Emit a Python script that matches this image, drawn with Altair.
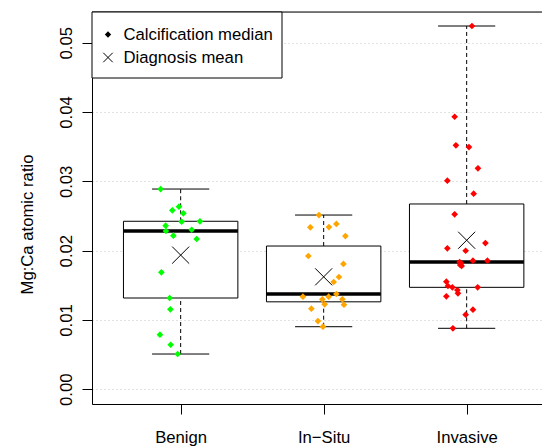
import altair as alt
import pandas as pd
import numpy as np

categories = ["Benign", "In\u2212Situ", "Invasive"]
colors = ["#00FF00", "#FFA500", "#FF0000"]
legend_labels = ["Calcification median", "Diagnosis mean"]
y_ticks = [0.0, 0.01, 0.02, 0.03, 0.04, 0.05]

benign_values = [0.02889, 0.02582, 0.02634, 0.02539, 0.02418, 0.02424, 0.02360, 0.02284, 0.02302,
                 0.02216, 0.02168, 0.01688, 0.01317, 0.01154, 0.00788, 0.00643, 0.00509]
benign_jitter = [-0.140, -0.058, -0.012, 0.019, 0.007, 0.135, -0.105, -0.103, 0.077,
                 -0.051, 0.112, -0.135, -0.077, -0.072, -0.145, -0.070, -0.021]

insitu_values = [0.02514, 0.02337, 0.02341, 0.02385, 0.02211, 0.01923, 0.01808, 0.01620, 0.01548,
                 0.01336, 0.01336, 0.01375, 0.01298, 0.01298, 0.01226, 0.01220, 0.01163, 0.00985, 0.00903]
insitu_jitter = [-0.033, -0.093, 0.037, 0.089, 0.152, -0.107, 0.138, 0.107, 0.070,
                 -0.145, 0.035, 0.089, -0.009, 0.131, 0.007, 0.142, -0.086, -0.040, -0.005]

invasive_values = [0.05241, 0.03932, 0.03520, 0.03495, 0.03188, 0.03009, 0.02822, 0.02525, 0.02110,
                   0.02034, 0.01999, 0.01855, 0.01855, 0.01836, 0.01815, 0.01793, 0.01779, 0.01552,
                   0.01490, 0.01471, 0.01471, 0.01432, 0.01385, 0.01342, 0.01148, 0.01076, 0.00880]
invasive_jitter = [0.037, -0.084, -0.075, 0.016, 0.079, -0.135, 0.049, -0.084, 0.131,
                   -0.135, -0.007, 0.044, 0.145, -0.049, -0.038, -0.045, -0.035, -0.142,
                   -0.131, -0.100, 0.077, -0.065, -0.061, -0.142, 0.044, -0.007, -0.096]

groups = [(benign_values, benign_jitter), (insitu_values, insitu_jitter), (invasive_values, invasive_jitter)]


def fivenum(v):
    x = sorted(v)
    n = len(x)
    n4 = np.floor((n + 3) / 2) / 2
    d = [1, n4, (n + 1) / 2, n + 1 - n4, n]
    return [0.5 * (x[int(np.floor(i)) - 1] + x[int(np.ceil(i)) - 1]) for i in d]


pt_rows, st_rows, wh_rows, cap_rows = [], [], [], []
for i, (cat, (vals, jit)) in enumerate(zip(categories, groups), start=1):
    for v, j in zip(vals, jit):
        pt_rows.append({"pos": i + j, "value": v, "group": cat})
    lo, q1, med, q3, hi = fivenum(vals)
    st_rows.append({"pos": i, "left": i - 0.4, "right": i + 0.4, "q1": q1, "med": med, "q3": q3,
                    "mean": float(np.mean(vals))})
    wh_rows += [{"pos": i, "y": q3, "y2": hi}, {"pos": i, "y": lo, "y2": q1}]
    cap_rows += [{"l": i - 0.2, "r": i + 0.2, "y": hi}, {"l": i - 0.2, "r": i + 0.2, "y": lo}]

pts = pd.DataFrame(pt_rows)
stats = pd.DataFrame(st_rows)
whisk = pd.DataFrame(wh_rows)
caps = pd.DataFrame(cap_rows)
one = pd.DataFrame({"a": [0]})

W, H = 450, 392
FONT = "Liberation Sans"
FS = 16.7

xscale = alt.Scale(domain=[0.38, 0.38 + W / 143.0], nice=False, zero=False)
yscale = alt.Scale(domain=[-0.00212, 0.05443], nice=False, zero=False)

label_expr = "[" + ",".join("'" + c + "'" for c in categories) + "][round(datum.value) - 1]"
xaxis = alt.Axis(values=[1, 2, 3], labelExpr=label_expr, title="", grid=False, tickSize=10,
                 tickColor="black", domainColor="black", labelColor="black", labelFont=FONT,
                 labelFontSize=FS, labelPadding=28.7, labelBaseline="alphabetic", labelFlush=False,
                 labelOverlap=False)
yaxis = alt.Axis(values=y_ticks, format=".2f", labelAngle=270, labelAlign="center",
                 labelBaseline="alphabetic", labelPadding=10.5, tickSize=10, tickColor="black",
                 domainColor="black", labelColor="black", labelFont=FONT, labelFontSize=FS,
                 labelOverlap=False, grid=True, gridDash=[1, 3], gridColor="#c4c4c4",
                 title="Mg:Ca atomic ratio", titleAngle=270, titleX=-60, titleY=212,
                 titleAlign="center", titleBaseline="alphabetic", titleFont=FONT,
                 titleFontSize=FS, titleFontWeight="normal", titleColor="black")

boxes = alt.Chart(stats).mark_rect(fill="white", stroke="black", strokeWidth=1).encode(
    x=alt.X("left:Q", scale=xscale, axis=xaxis), x2="right:Q",
    y=alt.Y("q1:Q", scale=yscale, axis=yaxis), y2="q3:Q")

medians = alt.Chart(stats).mark_rule(color="black", strokeWidth=3.5).encode(
    x=alt.X("left:Q", scale=xscale, axis=xaxis), x2="right:Q",
    y=alt.Y("med:Q", scale=yscale, axis=yaxis))

whiskers = alt.Chart(whisk).mark_rule(color="black", strokeWidth=1, strokeDash=[4, 3]).encode(
    x=alt.X("pos:Q", scale=xscale, axis=xaxis),
    y=alt.Y("y:Q", scale=yscale, axis=yaxis), y2="y2:Q")

capl = alt.Chart(caps).mark_rule(color="black", strokeWidth=1).encode(
    x=alt.X("l:Q", scale=xscale, axis=xaxis), x2="r:Q",
    y=alt.Y("y:Q", scale=yscale, axis=yaxis))

points = alt.Chart(pts).mark_point(shape="diamond", filled=True, size=45, opacity=1).encode(
    x=alt.X("pos:Q", scale=xscale, axis=xaxis),
    y=alt.Y("value:Q", scale=yscale, axis=yaxis),
    color=alt.Color("group:N", scale=alt.Scale(domain=categories, range=colors), legend=None))

XPATH = "M-1,-1L1,1M-1,1L1,-1"
means = alt.Chart(stats).mark_point(shape=XPATH, size=290, filled=False, color="black",
                                    strokeWidth=1, opacity=1).encode(
    x=alt.X("pos:Q", scale=xscale, axis=xaxis),
    y=alt.Y("mean:Q", scale=yscale, axis=yaxis))

top_line = alt.Chart(one).mark_rule(color="black", strokeWidth=1).encode(
    x=alt.value(0), x2=alt.value(W), y=alt.value(0))

leg_box = alt.Chart(one).mark_rect(fill="white", stroke="black", strokeWidth=1).encode(
    x=alt.value(0), x2=alt.value(190), y=alt.value(0), y2=alt.value(66))
leg_d = alt.Chart(one).mark_point(shape="diamond", filled=True, size=40, color="black", opacity=1).encode(
    x=alt.value(16), y=alt.value(22.5))
leg_x = alt.Chart(one).mark_point(shape=XPATH, size=90, filled=False, color="black",
                                  strokeWidth=1, opacity=1).encode(
    x=alt.value(16), y=alt.value(45.5))
leg_t1 = alt.Chart(one).mark_text(text=legend_labels[0], align="left", baseline="middle", font=FONT,
                                  fontSize=FS, color="black").encode(x=alt.value(31.5), y=alt.value(23))
leg_t2 = alt.Chart(one).mark_text(text=legend_labels[1], align="left", baseline="middle", font=FONT,
                                  fontSize=FS, color="black").encode(x=alt.value(31.5), y=alt.value(46))

chart = alt.layer(
    boxes, whiskers, capl, medians, points, means, top_line,
    leg_box, leg_d, leg_x, leg_t1, leg_t2
).properties(
    width=W, height=H,
    autosize=alt.AutoSizeParams(type="none"),
    padding={"left": 84, "top": 4, "right": 0, "bottom": 44},
).configure_view(stroke="transparent").configure(background="white")

chart.save("out.html", embed_options={"renderer": "svg", "actions": False})
